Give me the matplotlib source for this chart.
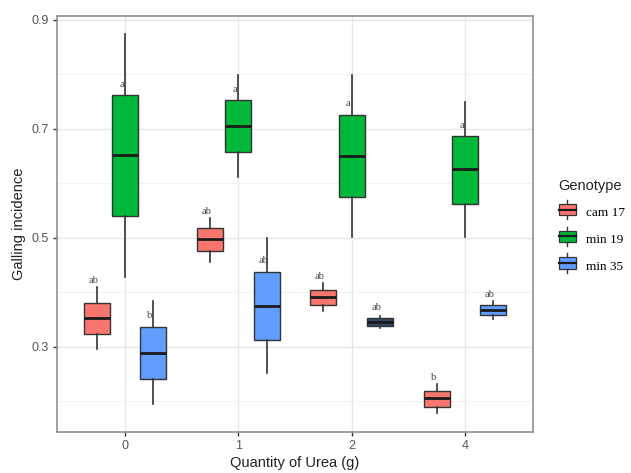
import matplotlib
matplotlib.use("Agg")
import matplotlib.pyplot as plt
from matplotlib.patches import Rectangle
from matplotlib.lines import Line2D
from matplotlib.legend_handler import HandlerBase

# data
urea = ["0", "1", "2", "4"]
genotypes = ["cam 17", "min 19", "min 35"]

cam17_whislo = [0.296, 0.456, 0.366, 0.179]
cam17_q1 = [0.324, 0.476, 0.377, 0.190]
cam17_med = [0.353, 0.498, 0.392, 0.206]
cam17_q3 = [0.381, 0.518, 0.404, 0.219]
cam17_whishi = [0.410, 0.537, 0.417, 0.232]
cam17_letters = ["ab", "ab", "ab", "b"]

min19_whislo = [0.428, 0.612, 0.502, 0.502]
min19_q1 = [0.540, 0.658, 0.575, 0.562]
min19_med = [0.652, 0.705, 0.650, 0.627]
min19_q3 = [0.762, 0.753, 0.726, 0.687]
min19_whishi = [0.874, 0.799, 0.799, 0.750]
min19_letters = ["a", "a", "a", "a"]

min35_whislo = [0.195, 0.252, 0.335, 0.351]
min35_q1 = [0.241, 0.313, 0.339, 0.359]
min35_med = [0.289, 0.375, 0.346, 0.368]
min35_q3 = [0.337, 0.438, 0.353, 0.377]
min35_whishi = [0.384, 0.500, 0.357, 0.384]
min35_letters = ["b", "ab", "ab", "ab"]

stats = {
    "cam 17": (cam17_whislo, cam17_q1, cam17_med, cam17_q3, cam17_whishi, cam17_letters),
    "min 19": (min19_whislo, min19_q1, min19_med, min19_q3, min19_whishi, min19_letters),
    "min 35": (min35_whislo, min35_q1, min35_med, min35_q3, min35_whishi, min35_letters),
}

fills = {"cam 17": "#F8766D", "min 19": "#00B83A", "min 35": "#619CFF"}
odd_fill = {("min 35", "2"): "#34496A"}  # that one box is drawn dark in the original
offsets = {"cam 17": -0.25, "min 19": 0.0, "min 35": 0.25}

SANS = "Liberation Sans"
SERIF = "Liberation Serif"
edge = "#333333"

fig = plt.figure(figsize=(6.31, 4.73), dpi=100)
ax = fig.add_axes([0.0903, 0.0867, 0.7544, 0.8795])

for g in genotypes:
    wlo, q1, med, q3, whi, letters = stats[g]
    for i, cat in enumerate(urea):
        x = i + offsets[g]
        st = [dict(whislo=wlo[i], q1=q1[i], med=med[i], q3=q3[i], whishi=whi[i], fliers=[])]
        ax.bxp(st, positions=[x], widths=0.23, patch_artist=True, showcaps=False,
               boxprops=dict(facecolor=odd_fill.get((g, cat), fills[g]), edgecolor=edge, linewidth=1.0),
               whiskerprops=dict(color=edge, linewidth=1.2),
               medianprops=dict(color="#1a1a1a", linewidth=2.0),
               manage_ticks=False, zorder=3)
        # letter sits just above the box (cam 17 ones sit above the whisker)
        ly = q3[i] + 0.02
        if g == "cam 17":
            ly = max(ly, whi[i] + 0.012)
        ax.text(x - 0.03, ly, letters[i], ha="center", va="center", fontsize=7.5,
                family=SERIF, color="#444444", zorder=4)

ax.set_xlim(-0.6, 3.6)
ax.set_ylim(0.144, 0.907)
ax.set_xticks(range(len(urea)))
ax.set_xticklabels(urea)
ax.set_yticks([0.3, 0.5, 0.7, 0.9])
ax.set_yticklabels(["0.3", "0.5", "0.7", "0.9"])
ax.set_yticks([0.2, 0.4, 0.6, 0.8], minor=True)
ax.grid(True, which="major", color="#E6E6E6", linewidth=1.0, zorder=0)
ax.grid(True, which="minor", axis="y", color="#F2F2F2", linewidth=0.8, zorder=0)
ax.set_axisbelow(True)
ax.tick_params(which="major", length=3, color="#333333", width=1.0,
               labelsize=9, labelcolor="#555555", pad=3)
ax.tick_params(which="minor", length=0)
for lab in ax.get_xticklabels() + ax.get_yticklabels():
    lab.set_family(SANS)
for s in ax.spines.values():
    s.set_color("#888888")
    s.set_linewidth(1.1)

ax.set_xlabel("Quantity of Urea (g)", family=SANS, fontsize=10.5, color="#222222", labelpad=3)
ax.set_ylabel("Galling incidence", family=SANS, fontsize=10.5, color="#222222", labelpad=4)


class BoxKey(HandlerBase):
    def create_artists(self, legend, orig, xd, yd, w, h, fontsize, trans):
        fc = orig.get_facecolor()
        bw, bh = w, h * 0.95
        x0, y0 = xd, yd + (h - bh) / 2 - 0.5
        r = Rectangle((x0, y0), bw, bh, facecolor=fc, edgecolor=edge, lw=0.9, transform=trans)
        cx = x0 + bw / 2
        m = Line2D([x0, x0 + bw], [y0 + bh / 2] * 2, color="#1a1a1a", lw=1.6, transform=trans)
        t = Line2D([cx, cx], [y0 + bh, y0 + bh + 3], color=edge, lw=1.0, transform=trans)
        b = Line2D([cx, cx], [y0 - 3, y0], color=edge, lw=1.0, transform=trans)
        return [t, b, r, m]


handles = [Rectangle((0, 0), 1, 1, facecolor=fills[g]) for g in genotypes]
leg = fig.legend(handles, genotypes, handler_map={Rectangle: BoxKey()},
                 loc="upper left", bbox_to_anchor=(0.877, 0.632), frameon=False,
                 title="Genotype", handlelength=1.3, handleheight=1.0, handletextpad=0.8,
                 labelspacing=1.0, borderaxespad=0, prop={"family": SERIF, "size": 9.5})
leg.get_title().set_fontfamily(SANS)
leg.get_title().set_fontsize(10.5)
leg.get_title().set_color("#222222")
leg._legend_box.align = "left"
leg._legend_box.sep = 9

fig.savefig("out.png", dpi=100)
